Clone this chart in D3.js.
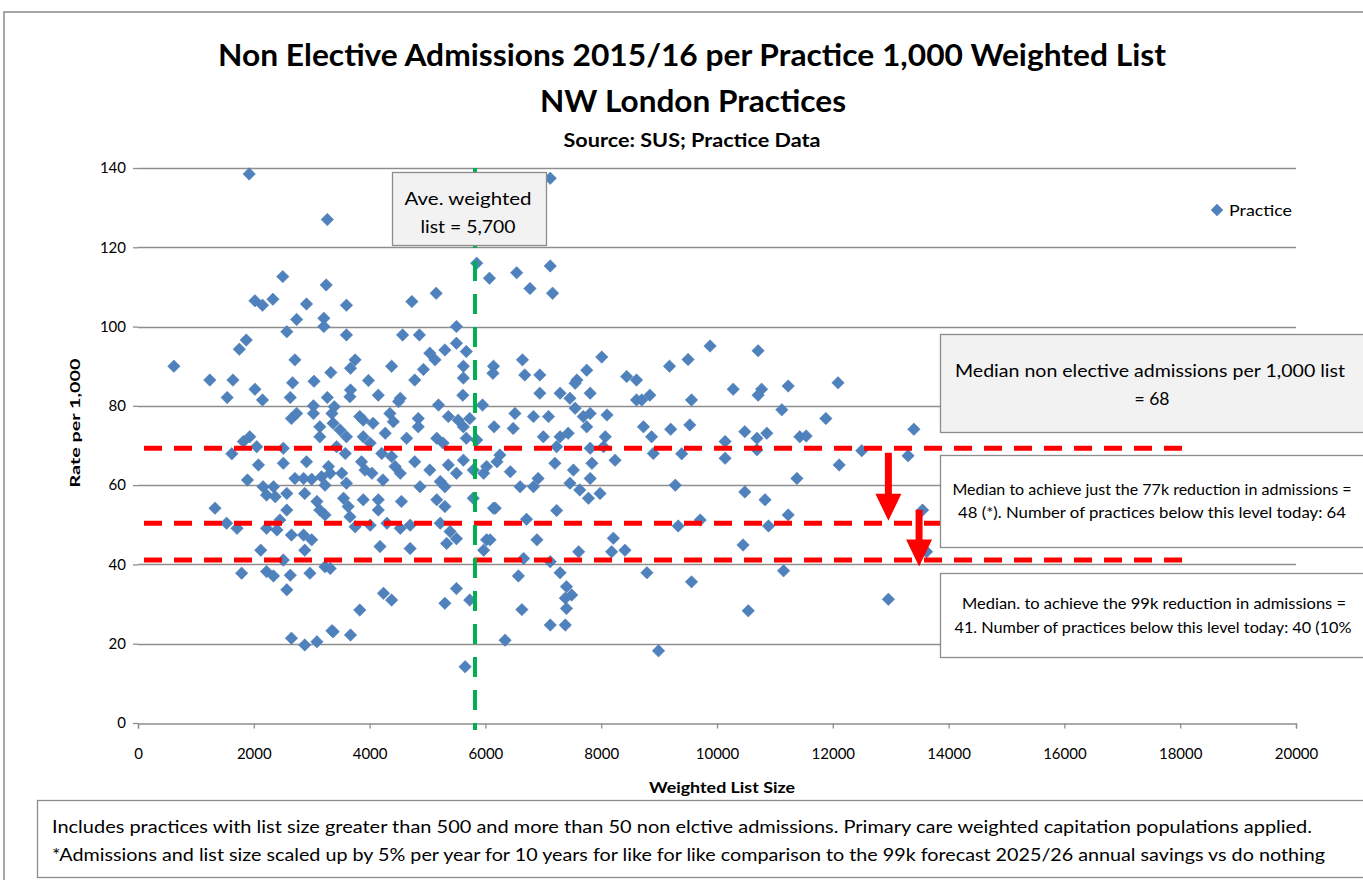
<!DOCTYPE html>
<html><head><meta charset="utf-8">
<script src="https://cdn.jsdelivr.net/npm/d3@7"></script>
<style>
html,body{margin:0;padding:0;background:#fff;overflow:hidden}
svg{display:block}
text{font-family:Lato,"Open Sans",sans-serif;fill:#000}
</style></head><body>
<svg id="chart" width="1363" height="880"></svg>
<script>
// ---- data ----
const practicePoints = [
[1920,138.5],[3270,127],[2500,112.6],[3250,110.5],[2020,106.5],[2150,105.4],[2330,106.9],[2910,105.7],[2740,101.8],[3210,102.1],[3210,100],[2570,98.7],[1870,96.6],[1750,94.3],[2710,91.6],[620,90],[1240,86.5],[1640,86.5],[2670,85.8],[3040,86.2],[2020,84.2],[1540,82.1],[2150,81.5],[2630,82.1],[3330,88.4],[3270,82.1],[3030,80],[3030,78.1],[2650,76.8],[2740,78.1],[3140,74.7],[3140,72.2],[3350,78.1],[3370,75.6],[1930,72.2],[1820,71],
[1330,54.2],[1530,50.4],[1710,49.1],[1620,67.9],[2080,65.1],[2510,65.5],[2910,65.9],[1890,61.3],[2160,59.6],[2340,59.6],[2220,57.5],[2370,57.1],[2570,57.9],[2710,61.7],[2860,61.7],[3000,61.5],[3170,62.1],[3290,64.7],[3320,63],[3230,60],[2880,57.9],[3090,55.9],[3140,53.7],[3230,52.5],[2570,53.7],[2450,51.2],[2400,48.7],[2220,49.1],[2650,47.4],[2860,47.4],[3000,46.2],[2880,43.6],[2120,43.6],[2510,41.1],[1790,37.8],[2220,38.2],[2340,37.1],[2630,37.3],[2570,33.6],[2970,37.8],[3230,39.4],[2650,21.4],[2880,19.7],[3090,20.5],[3350,23.3],[2050,69.7],[2510,69.3],
[5850,116],[6070,112.2],[5150,108.4],[4730,106.3],[3600,105.4],[3600,97.9],[4570,97.9],[4860,97.9],[5500,100],[3750,91.6],[3670,89.5],[4380,90],[5040,93.3],[5130,91.6],[5300,94.1],[5500,95.8],[5670,93.7],[4930,89.2],[4780,86.5],[5620,90],[5620,87],[3980,86.4],[4150,82.7],[3660,82.3],[3670,84],[4530,81.9],[4500,81.1],[5610,82.7],[5190,80.2],[5950,80.2],[6140,90],[6130,88.2],[3830,77.3],[3890,76.4],[4060,75.6],[4350,78.1],[4410,76],[4840,76.8],[4840,74.7],[5360,77.3],[5530,76.4],[5620,74.7],[5730,76.8],[3390,79.8],[3490,73.9],[3600,72.2],[3890,72.2],[4010,70.6],[4270,73.1],[4640,71.8],[5160,71.8],[5270,70.6],[5670,71.8],[5850,71.4],[6150,74.7],
[3430,69.7],[3580,68],[3860,65.9],[4040,63],[3920,63.8],[4210,68],[4380,67.2],[4440,64.7],[4530,63],[4230,61.3],[4780,65.9],[5040,63.8],[5220,60.9],[5300,59.6],[5360,65.1],[5500,63],[5620,66.3],[5790,63.8],[5970,63],[6020,64.7],[3520,63],[3600,60.5],[3550,56.7],[3630,54.6],[3890,56.3],[4150,56.3],[4150,53.7],[4550,55.9],[4870,59.6],[5160,56.3],[5300,54.6],[5790,56.7],[6140,54.2],[3660,52],[3750,49.5],[4010,49.9],[4300,50.4],[4530,49.1],[4700,49.9],[5220,50.4],[5390,48.3],[5500,46.5],[4180,44.5],[4700,44],[5330,45.3],[6020,46.2],[5970,43.6],[3320,39],[4240,32.7],[4380,31],[3830,28.5],[3370,23],[3670,22.2],[5500,33.9],[5300,30.2],[5730,31],[5650,14.2],
[7120,137.4],[7120,115.3],[6540,113.6],[6770,109.6],[7160,108.4],[8010,92.3],[6640,91.6],[6680,87.8],[6940,87.8],[7750,89],[7580,86.5],[7550,85.7],[8440,87.4],[8610,86.5],[6940,83.2],[7290,83.2],[7460,81.9],[7810,83.2],[6510,78.1],[6830,77.3],[7090,77.3],[7550,79.4],[7690,77.3],[7810,78.1],[6480,74.3],[7000,72.2],[7290,72.2],[7430,73.1],[7750,74.7],[8070,72.2],[8100,77.7],[8610,81.5],
[6250,67.6],[6430,63.4],[6200,65.9],[6600,59.6],[6830,59.6],[6910,61.7],[7230,69.7],[7200,65.5],[7520,63.8],[7460,60.5],[7630,58.8],[7780,56.7],[7810,61.7],[7840,65.5],[7980,57.9],[8240,66.3],[7810,69.3],[8040,69.7],[6170,54.2],[6710,51.4],[7230,53.6],[6890,46.2],[6080,46.2],[6660,41.5],[7120,40.7],[7610,43.2],[8210,46.6],[8180,43.2],[8410,43.6],[6570,37.1],[7290,37.9],[7400,34.4],[7490,32.3],[7380,31.5],[7400,28.9],[6630,28.6],[7120,24.7],[7380,24.7],[6340,20.9],
[9880,95.1],[10710,93.9],[9500,91.7],[9180,90],[8700,81.5],[8840,82.7],[9560,81.5],[10280,84.2],[10770,84.2],[10710,82.7],[11230,85],[11120,79],[8730,74.7],[8870,72.2],[9200,74.1],[9530,75.2],[10480,73.5],[10690,71.8],[10860,73.1],[10140,71],[11430,72.2],
[8900,68],[9390,67.9],[10140,66.8],[10690,68.9],[11380,61.7],[9280,60],[10480,58.3],[10830,56.3],[11230,52.5],[9330,49.7],[9710,51.2],[10890,49.7],[10450,44.9],[8790,37.9],[11150,38.4],[9560,35.6],[10540,28.3],[8990,18.2],
[12090,85.8],[11880,76.8],[11540,72.4],[12500,68.7],[12110,65.1],[13400,74.1],[13300,67.4],[13550,53.7],[13620,43.2],[12960,31.2]
];
const xTicks = [0,2000,4000,6000,8000,10000,12000,14000,16000,18000,20000];
const yTicks = [0,20,40,60,80,100,120,140];
const medianLevels = [69.3, 50.4, 41.1];      // red dashed reference lines
const medianLineEnd = 18200;
const averageListSize = 5820;                 // green dashed line
const reductionArrows = [{x:12960, from:68.2, to:51.0},{x:13490, from:53.8, to:39.5}];
const titleLines = ["Non Elective Admissions 2015/16 per Practice 1,000 Weighted List","NW London Practices"];
const subtitle = "Source: SUS; Practice Data";
const xAxisTitle = "Weighted List Size";
const yAxisTitle = "Rate per 1,000";
const legendLabel = "Practice";
const aveBoxLines = ["Ave. weighted","list = 5,700"];
const medianBoxLines = ["Median non elective admissions per 1,000 list","= 68"];
const box77kLines = ["Median to achieve just the 77k reduction in admissions =","48 (*). Number of practices below this level today: 64"];
const box99kLines = ["Median.  to achieve the 99k reduction in admissions =","41. Number of practices below this level today: 40 (10%"];
const footnoteLines = ["Includes practices with list size greater than 500 and more than 50  non elctive admissions. Primary care weighted capitation populations applied.",
"*Admissions and list size scaled up by 5% per year for 10 years for like for like comparison to the 99k forecast 2025/26  annual savings vs do nothing"];

// ---- drawing ----
const svg = d3.select("#chart");
const x = d3.scaleLinear().domain([0,20000]).range([138,1296]);
const y = d3.scaleLinear().domain([0,140]).range([723,168]);
const gridCol = "#8e8e8e";

// outer frame
svg.append("path").attr("d","M4,880 V12 H1363").attr("fill","none").attr("stroke","#8a8a8a").attr("stroke-width",1.5);

function txt(g, s, px, py, opts){
  const t = g.append("text").attr("x",px).attr("y",py).text(s)
    .attr("text-anchor",opts.anchor||"middle")
    .attr("font-size",opts.size).attr("font-weight",opts.weight||"normal");
  if(opts.len) t.attr("textLength",opts.len).attr("lengthAdjust","spacingAndGlyphs");
  return t;
}
txt(svg,titleLines[0],692,66,{size:31,weight:"bold",len:948});
txt(svg,titleLines[1],693,112,{size:31,weight:"bold",len:306});
txt(svg,subtitle,692,147,{size:18,weight:"bold",len:257});

// gridlines
svg.append("g").selectAll("line").data(yTicks.filter(d=>d>0)).join("line")
  .attr("x1",x(0)).attr("x2",x(20000)).attr("y1",d=>Math.round(y(d))+0.5).attr("y2",d=>Math.round(y(d))+0.5)
  .attr("stroke",gridCol).attr("stroke-width",1.3);

// axes
const xAxis = svg.append("g").attr("transform",`translate(0,${Math.round(y(0))+0.5})`)
  .call(d3.axisBottom(x).tickValues(xTicks).tickFormat(d3.format("d")).tickSize(5).tickPadding(20));
const yAxis = svg.append("g").attr("transform",`translate(${x(0)},0)`)
  .call(d3.axisLeft(y).tickValues(yTicks).tickSize(5).tickPadding(7));
[xAxis,yAxis].forEach(a=>{
  a.select(".domain").attr("stroke",gridCol).attr("stroke-width",1.3);
  a.selectAll(".tick line").attr("stroke",gridCol).attr("stroke-width",1.3);
  a.selectAll("text").attr("font-size",15).attr("font-family","Lato, sans-serif").attr("fill","#000");
});
yAxis.select(".domain").remove();

txt(svg,xAxisTitle,722,793,{size:15,weight:"bold",len:146});
svg.append("text").attr("transform","translate(80,423) rotate(-90)").attr("text-anchor","middle")
  .attr("font-size",14).attr("font-weight","bold").attr("textLength",129).attr("lengthAdjust","spacingAndGlyphs").text(yAxisTitle);

// scatter points
const diamond = d3.symbol().type(d3.symbolSquare).size(78);
svg.append("g").selectAll("path").data(practicePoints).join("path")
  .attr("d",diamond).attr("transform",d=>`translate(${x(d[0])},${y(d[1])}) rotate(45)`)
  .attr("fill","#4f81bd").attr("stroke","#4a7bb5").attr("stroke-width",0.5);

// red dashed median lines
svg.append("g").selectAll("line").data(medianLevels).join("line")
  .attr("x1",x(0)).attr("x2",x(medianLineEnd)).attr("y1",d=>y(d)).attr("y2",d=>y(d))
  .attr("stroke","#ff0000").attr("stroke-width",5).attr("stroke-dasharray","18,12").attr("stroke-dashoffset",24);

// green average line
svg.append("line").attr("x1",x(averageListSize)).attr("x2",x(averageListSize))
  .attr("y1",y(140)).attr("y2",y(0)+7)
  .attr("stroke","#00b050").attr("stroke-width",4).attr("stroke-dasharray","20,13").attr("stroke-dashoffset",6);

// red arrows
reductionArrows.forEach(a=>{
  const cx = x(a.x), y0 = y(a.from), y1 = y(a.to), head = 27, hw = 13, sw = 3.5;
  svg.append("path").attr("fill","#ff0000")
    .attr("d",`M${cx-sw},${y0} H${cx+sw} V${y1-head} H${cx+hw} L${cx},${y1} L${cx-hw},${y1-head} H${cx-sw} Z`);
});

// annotation boxes
function box(x0,y0,w,h,fill,lines,opts){
  svg.append("rect").attr("x",x0+0.5).attr("y",y0+0.5).attr("width",w).attr("height",h)
    .attr("fill",fill).attr("stroke","#8c8c8c").attr("stroke-width",1.3);
  lines.forEach((s,i)=>txt(svg,s,opts.cx[i],opts.by[i],{size:opts.size,len:opts.len[i]}));
}
box(392,172,154,73,"#f2f2f2",aveBoxLines,{cx:[468,468],by:[205,233],size:18,len:[127,95]});
box(940,334,440,98,"#f2f2f2",medianBoxLines,{cx:[1150,1152],by:[377,405],size:18,len:[390,35]});
box(940,455,440,92,"#ffffff",box77kLines,{cx:[1152,1152],by:[495,518],size:15,len:[399,388]});
box(940,573,440,84,"#ffffff",box99kLines,{cx:[1154,1153],by:[609,633],size:15,len:[384,397]});

// legend
svg.append("path").attr("d",diamond).attr("transform",`translate(1217,210) rotate(45)`).attr("fill","#4f81bd");
txt(svg,legendLabel,1229,216,{size:15,anchor:"start",len:63});

// footnote box
svg.append("rect").attr("x",37.5).attr("y",800.5).attr("width",1340).attr("height",77)
  .attr("fill","#fff").attr("stroke","#8c8c8c").attr("stroke-width",1.3);
txt(svg,footnoteLines[0],52,833,{size:17,anchor:"start",len:1260});
txt(svg,footnoteLines[1],52,861,{size:17,anchor:"start",len:1273});
</script>
</body></html>
